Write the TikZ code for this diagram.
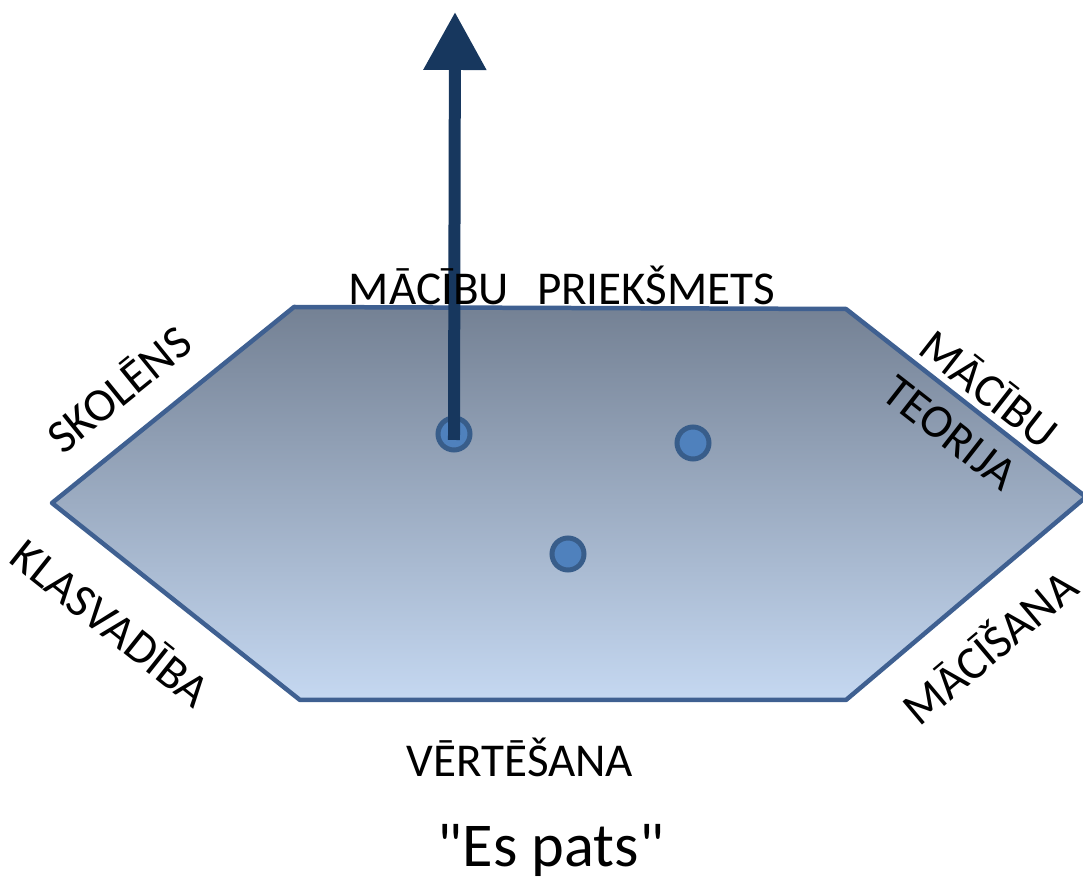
\documentclass[tikz,border=0pt]{standalone}
\usepackage{fontspec}
\setmainfont{Carlito}
\newfontfamily\plainquotes{Carlito}[Ligatures=TeXOff]
\usetikzlibrary{arrows.meta}
\definecolor{hexTop}{RGB}{116,129,148}
\definecolor{hexBottom}{RGB}{197,216,241}
\definecolor{hexBorder}{RGB}{63,96,145}
\definecolor{dotFill}{RGB}{79,129,189}
\definecolor{dotBorder}{RGB}{56,93,138}
\definecolor{arrowBlue}{RGB}{23,55,94}
\tikzset{
    side/.style={font=\fontsize{26.8}{30}\selectfont, inner sep=0pt},
    point/.style={circle, fill=dotFill, draw=dotBorder, line width=0.1cm, minimum size=0.64cm, inner sep=0pt},
}
\begin{document}
\begin{tikzpicture}[x=0.02cm, y=-0.02cm]
    \useasboundingbox (0, 0) rectangle (1083, 881);
    % the plane
    \path[draw=hexBorder, line width=0.09cm, line join=round, top color=hexTop, bottom color=hexBottom]
        (294, 307) -- (846, 309) -- (1086, 497) -- (846, 700) -- (300, 700) -- (52, 503) -- cycle;
    \node[point] (d1) at (454, 434) {};
    \node[point] (d2) at (693, 443) {};
    \node[point] (d3) at (568, 554) {};
    \coordinate (tip) at (455, 12);
    \draw[arrowBlue, line width=0.24cm, shorten <=-0.12cm, -{Triangle[width=1.2cm, length=1.16cm]}] (d1.center) -- (tip);
    % labels
    \node[side] (subject) at (562, 285) {MĀCĪBU\hspace{0.6em}PRIEKŠMETS};
    \node[side, rotate=39] (pupil) at (118, 388) {SKOLĒNS};
    \node[side, rotate=-38.5] (class) at (112, 622) {KLASVADĪBA};
    \node[side, rotate=-38] (theory1) at (990, 388) {MĀCĪBU};
    \node[side, rotate=-38] (theory2) at (950, 433) {TEORIJA};
    \node[side, rotate=40] (teach) at (988, 645) {MĀCĪŠANA};
    \node[side] (assess) at (520, 757) {VĒRTĒŠANA};
    \node[font=\plainquotes\fontsize{35.5}{40}\selectfont, inner sep=0pt] (self) at (551, 850) {"Es pats"};
\end{tikzpicture}
\end{document}
